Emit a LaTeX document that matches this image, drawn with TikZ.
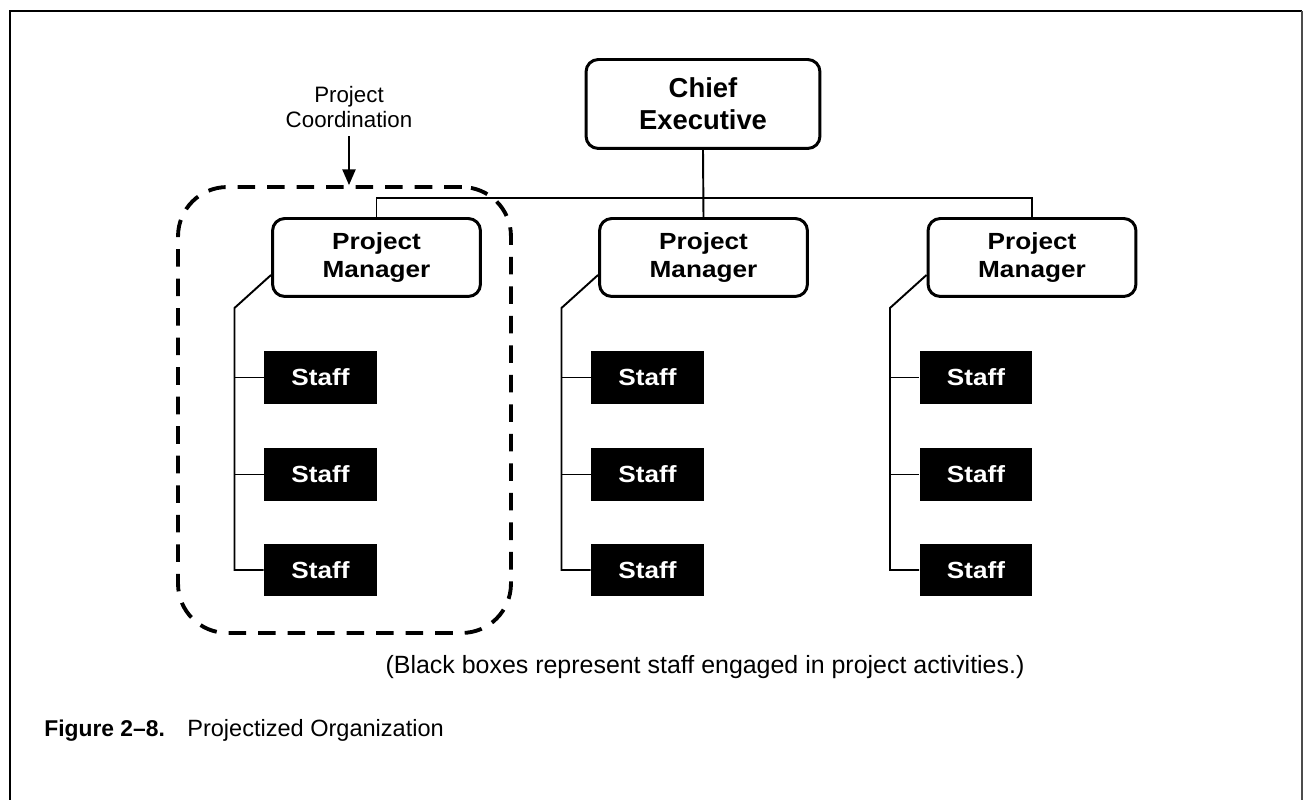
\documentclass[tikz,border=0pt]{standalone}
\usepackage{fontspec}
\setmainfont{Liberation Sans}
\newfontfamily\widesans{Liberation Sans}[FakeStretch=1.12]
\usetikzlibrary{arrows.meta}
\begin{document}
\begin{tikzpicture}[x=0.02cm,y=-0.02cm,
  pm/.style={draw, line width=1.7pt, rounded corners=7pt, minimum width=4.16cm,
    minimum height=1.56cm, align=center, inner sep=0pt,
    font=\widesans\bfseries\fontsize{13.3}{16}\selectfont},
  ce/.style={pm, minimum width=4.68cm, minimum height=1.78cm,
    font=\bfseries\fontsize{15.6}{18}\selectfont},
  staffbox/.style={fill=black, text=white, minimum width=2.26cm, minimum height=1.06cm,
    inner sep=0pt, font=\widesans\bfseries\fontsize{13.3}{16}\selectfont},
  conn/.style={line width=1.1pt},
  group/.style={draw, line width=2.2pt, dash pattern=on 10pt off 6.8pt,
    rounded corners=28pt, minimum width=6.66cm, minimum height=8.92cm, inner sep=0pt},
  frame/.style={line width=1.7pt},
]
\useasboundingbox (0,0) rectangle (1303,800);
% frame
\draw[frame] (10,800) -- (10,11) -- (1302,11);
\draw[line width=1pt, black!70] (1302,11) -- (1302,800);

% chief
\node[ce] (ce) at (703,104) {Chief\\Executive};

% group
\node[group] (grp) at (344.5,410) {};

\foreach \c/\x in {1/376.5, 2/703.5, 3/1032} {
  \node[pm] (pm\c) at (\x,257.5) {Project\\Manager};
  \node[staffbox] (sa\c) at (\x-56,377.5) {Staff};
  \node[staffbox] (sb\c) at (\x-56,474.5) {Staff};
  \node[staffbox] (sc\c) at (\x-56,570) {Staff};
  \path (pm\c.west) ++(0,17.5) coordinate (d\c);
  \coordinate (v\c) at (\x-142,308);
  \draw[conn] (d\c) -- (v\c) |- (sc\c.west);
  \draw[conn] (v\c |- sa\c.west) -- (sa\c.west);
  \draw[conn] (v\c |- sb\c.west) -- (sb\c.west);
}

% bus
\coordinate (bus) at (703,198);
\draw[conn] (ce.south) -- (pm2.north);
\draw[conn] (pm1.north) -- (pm1.north |- bus) -- (pm3.north |- bus) -- (pm3.north);

% label and arrow
\node[font=\fontsize{12.7}{14.2}\selectfont, align=center, inner sep=0pt] (lab) at (349,107) {Project\\Coordination};
\draw[conn, -{Triangle[length=9pt,width=7.5pt]}] ([yshift=-0.16cm]lab.south) -- (lab.south |- grp.north);

% caption
\node[font=\fontsize{14.2}{16}\selectfont, anchor=base, inner sep=0pt] (cap) at (705,674)
  {(Black boxes represent staff engaged in project activities.)};
\node[anchor=base west, inner sep=0pt, font=\fontsize{13}{15}\selectfont] (fig) at (44,737) {\bfseries Figure 2–8.};
\node[anchor=base west, inner sep=0pt, font=\fontsize{13.4}{15}\selectfont] (figt) at (187,737) {Projectized Organization};
\end{tikzpicture}
\end{document}
